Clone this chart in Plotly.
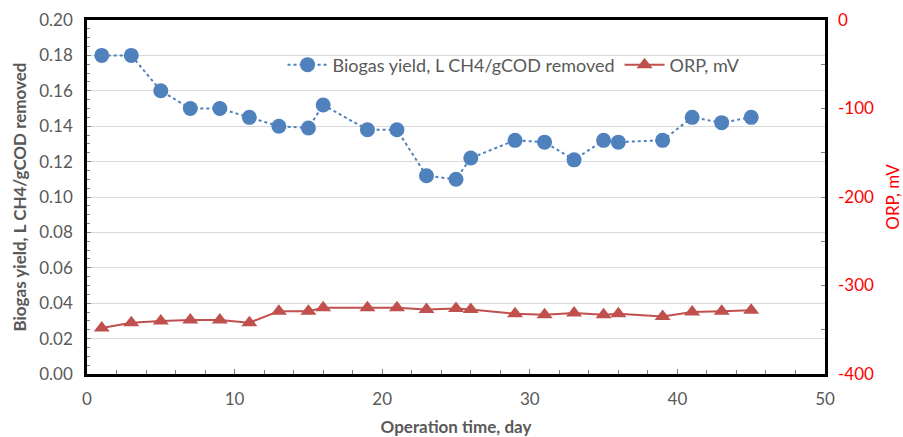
import plotly.graph_objects as go

days_biogas = [1, 3, 5, 7, 9, 11, 13, 15, 16, 19, 21, 23, 25, 26, 29, 31, 33, 35, 36, 39, 41, 43, 45]
biogas_yield = [0.180, 0.180, 0.160, 0.150, 0.150, 0.145, 0.140, 0.139, 0.152, 0.138, 0.138, 0.112, 0.110,
                0.122, 0.132, 0.131, 0.121, 0.132, 0.131, 0.132, 0.145, 0.142, 0.145]
days_orp = [1, 3, 5, 7, 9, 11, 13, 15, 16, 19, 21, 23, 25, 26, 29, 31, 33, 35, 36, 39, 41, 43, 45]
orp_mv = [-348, -342, -340, -339, -339, -342, -329, -329, -325, -325, -325, -327, -326,
          -327, -332, -333, -331, -333, -332, -335, -330, -329, -328]
orp_ticks = [0, -100, -200, -300, -400]
orp_ticklabels = ["0", "-100", "-200", "-300", "-400"]

FONT = "Lato"
GRAY = "#595959"

fig = go.Figure()
fig.add_trace(go.Scatter(
    x=days_biogas, y=biogas_yield, name="Biogas yield, L CH4/gCOD removed",
    mode="lines+markers",
    line=dict(color="#4F81BD", width=2, dash="dot"),
    marker=dict(symbol="circle", size=15, color="#4F81BD"),
))
fig.add_trace(go.Scatter(
    x=days_orp, y=orp_mv, name="ORP, mV", yaxis="y2",
    mode="lines+markers",
    line=dict(color="#C0504D", width=2),
    marker=dict(symbol="triangle-up", size=14, color="#C0504D"),
))

fig.update_layout(
    width=903, height=437,
    margin=dict(l=87, r=78, t=20, b=63),
    paper_bgcolor="white", plot_bgcolor="white",
    font=dict(family=FONT, size=17, color=GRAY),
    showlegend=True,
    legend=dict(orientation="h", x=0.265, y=0.873, xanchor="left", yanchor="middle",
                bgcolor="rgba(0,0,0,0)", font=dict(size=18, color=GRAY),
                itemwidth=40, tracegroupgap=0),
    xaxis=dict(range=[0, 50], dtick=10, showgrid=False, zeroline=False, automargin=False,
               ticks="inside", ticklen=5, tickcolor="#7f7f7f",
               minor=dict(dtick=2, ticks="inside", ticklen=4, tickcolor="#7f7f7f"),
               showline=True, linecolor="black", linewidth=2.5, mirror=True,
               tickfont=dict(size=17, color=GRAY), ticklabelstandoff=8,
               title=dict(text="<b>Operation time, day</b>", font=dict(size=17, color=GRAY), standoff=14)),
    yaxis=dict(range=[0, 0.20], dtick=0.02, tickformat=".2f", showgrid=True, gridcolor="#D9D9D9",
               gridwidth=1, zeroline=False, automargin=False,
               ticks="inside", ticklen=4, tickcolor="#7f7f7f",
               minor=dict(dtick=0.005, ticks="inside", ticklen=3, tickcolor="#7f7f7f"),
               showline=True, linecolor="black", linewidth=2.5, mirror=True,
               tickfont=dict(size=17, color=GRAY), ticklabelstandoff=8,
               title=dict(text="<b>Biogas yield, L CH4/gCOD removed</b>", font=dict(size=17, color=GRAY), standoff=9)),
    yaxis2=dict(range=[-400, 0], tickvals=orp_ticks, ticktext=orp_ticklabels, automargin=False,
                overlaying="y", side="right", showgrid=False, zeroline=False,
                ticks="inside", ticklen=4, tickcolor="#7f7f7f",
                minor=dict(dtick=50, ticks="inside", ticklen=4, tickcolor="#7f7f7f"),
                tickfont=dict(size=17, color="#FF0000"), ticklabelstandoff=12,
                title=dict(text="ORP, mV", font=dict(size=17, color="#FF0000"), standoff=14)),
)

fig.write_html("out.html")
